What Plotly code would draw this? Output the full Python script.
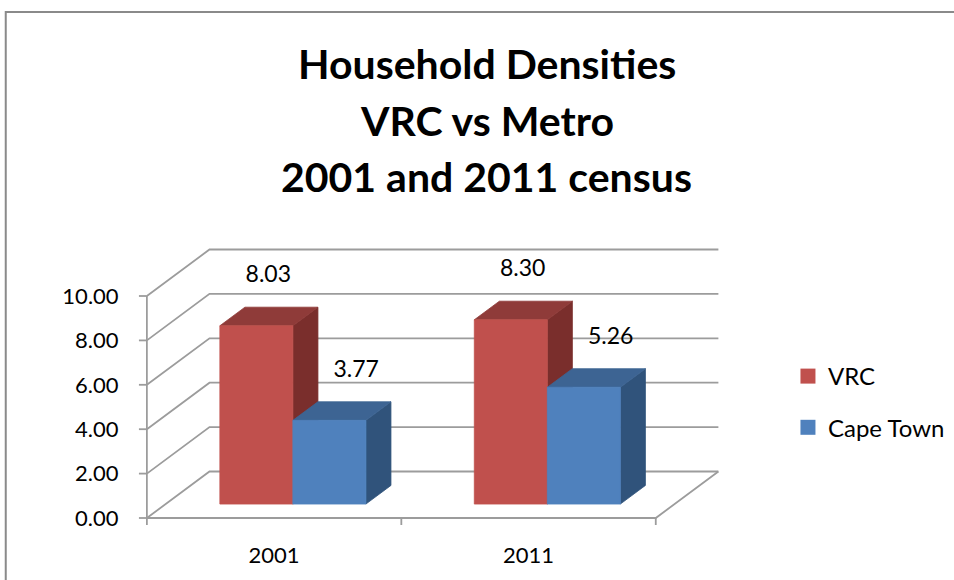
import plotly.graph_objects as go

# Data
categories = ["2001", "2011"]
series_names = ["VRC", "Cape Town"]
vrc_values = [8.03, 8.30]
cape_town_values = [3.77, 5.26]
y_tick_values = [0, 2, 4, 6, 8, 10]
y_tick_labels = ["0.00", "2.00", "4.00", "6.00", "8.00", "10.00"]
title_lines = ["Household Densities", "VRC vs Metro", "2001 and 2011 census"]

# Canvas / plot area geometry (pixels)
W, H = 954, 580
M_L, M_R, M_T, M_B = 128, 4, 240, 48
PX_PER_X = 256.0      # pixels per category unit
PX_PER_Y = 22.2       # pixels per value unit

# Oblique "3D" projection: full depth of the chart box in data units
DX = 63.0 / PX_PER_X
DY = 46.5 / PX_PER_Y
BAR_D0 = 0.30         # depth fraction of bar front face
BAR_DD = 0.40         # depth of bar as fraction of box
BAR_W = 0.287         # width of one bar in category units

plot_w = W - M_L - M_R
plot_h = H - M_T - M_B
x_lo = -0.5 - (147 - M_L) / PX_PER_X
x_hi = x_lo + plot_w / PX_PER_X
y_lo = -(H - M_B - 518) / PX_PER_Y
y_hi = y_lo + plot_h / PX_PER_Y

GRID = "#9c9c9c"
FONT = "Lato"

colors = {
    "VRC": {"front": "#c0504d", "top": "#8f3b39", "side": "#7a2e2c"},
    "Cape Town": {"front": "#4f81bd", "top": "#3d6493", "side": "#30537b"},
}


def proj(x, v, d):
    return x + d * DX, v + d * DY


fig = go.Figure()


def add_line(xs, ys, color=GRID, width=1.8):
    fig.add_trace(go.Scatter(x=xs, y=ys, mode="lines",
                             line=dict(color=color, width=width),
                             hoverinfo="skip", showlegend=False))


def add_poly(pts, color):
    xs = [p[0] for p in pts] + [pts[0][0]]
    ys = [p[1] for p in pts] + [pts[0][1]]
    fig.add_trace(go.Scatter(x=xs, y=ys, mode="lines", fill="toself",
                             fillcolor=color, line=dict(color=color, width=0.8),
                             hoverinfo="skip", showlegend=False))


n_cat = len(categories)
x_left, x_right = -0.5, n_cat - 0.5

# Back wall gridlines and side wall diagonals
for v in y_tick_values:
    bx0, by = proj(x_left, v, 1.0)
    bx1, _ = proj(x_right, v, 1.0)
    add_line([x_left, bx0, bx1], [v, by, by])

# Floor edges and value axis
fx, fy = proj(x_right, 0, 1.0)
add_line([x_left, x_right, fx], [0, 0, fy])
add_line([x_left, x_left], [0, max(y_tick_values)])

# Axis tick marks
for v in y_tick_values:
    add_line([x_left - 8 / PX_PER_X, x_left], [v, v])
for i in range(n_cat + 1):
    xt = x_left + i
    add_line([xt, xt], [0, -7 / PX_PER_Y])

# 3D columns
series = [("VRC", vrc_values, -1), ("Cape Town", cape_town_values, 0)]
for ci in range(n_cat):
    for name, vals, k in series:
        v = vals[ci]
        c = colors[name]
        x0 = ci + k * BAR_W
        x1 = x0 + BAR_W
        d0, d1 = BAR_D0, BAR_D0 + BAR_DD
        fl, fr = proj(x0, 0, d0), proj(x1, 0, d0)
        tl, tr = proj(x0, v, d0), proj(x1, v, d0)
        btl, btr = proj(x0, v, d1), proj(x1, v, d1)
        bbr = proj(x1, 0, d1)
        add_poly([fr, tr, btr, bbr], c["side"])
        add_poly([tl, tr, btr, btl], c["top"])
        add_poly([fl, fr, tr, tl], c["front"])

# Data labels above each column
label_dx = {"VRC": 12 / PX_PER_X, "Cape Town": 27 / PX_PER_X}
label_dy = 2.85
for name, vals, k in series:
    xs, ys, txt = [], [], []
    for ci in range(n_cat):
        cx = ci + k * BAR_W + BAR_W / 2
        px, _ = proj(cx, 0, BAR_D0)
        xs.append(px + label_dx[name])
        ys.append(vals[ci] + label_dy)
        txt.append(f"{vals[ci]:.2f}")
    fig.add_trace(go.Scatter(x=xs, y=ys, mode="text", text=txt,
                             textposition="middle center",
                             textfont=dict(family=FONT, size=23, color="#000000"),
                             hoverinfo="skip", showlegend=False, cliponaxis=False))

# Legend entries
for gi, name in enumerate(series_names):
    fig.add_trace(go.Scatter(x=[None], y=[None], mode="markers", name=name,
                             legendgroup=f"g{gi}",
                             marker=dict(symbol="square", size=15,
                                         color=colors[name]["front"])))


def px_to_paper_x(px):
    return (px - M_L) / plot_w


def px_to_paper_y(py):
    return (H - M_B - py) / plot_h


# Title, three centred bold lines
for i, line in enumerate(title_lines):
    fig.add_annotation(text=line, xref="paper", yref="paper",
                       x=px_to_paper_x(489), y=px_to_paper_y(63.5 + 56.7 * i),
                       xanchor="center", yanchor="middle", showarrow=False,
                       font=dict(family=FONT, size=41, color="#000000", weight="bold"))

# Chart area border
fig.add_shape(type="rect", xref="paper", yref="paper", layer="below",
              x0=px_to_paper_x(5), y0=px_to_paper_y(12),
              x1=px_to_paper_x(W + 20), y1=px_to_paper_y(H + 20),
              line=dict(color="#8a8a8a", width=2), fillcolor="rgba(0,0,0,0)")

fig.update_layout(
    width=W, height=H,
    margin=dict(l=M_L, r=M_R, t=M_T, b=M_B),
    paper_bgcolor="#ffffff", plot_bgcolor="rgba(0,0,0,0)",
    font=dict(family=FONT, size=22, color="#000000"),
    showlegend=True,
    legend=dict(x=px_to_paper_x(792), y=px_to_paper_y(354), xanchor="left", yanchor="top",
                font=dict(family=FONT, size=24, color="#000000"),
                tracegroupgap=17, bgcolor="rgba(0,0,0,0)"),
    xaxis=dict(range=[x_lo, x_hi], tickmode="array", tickvals=list(range(n_cat)),
               ticktext=categories, showgrid=False, zeroline=False, showline=False,
               ticks="outside", ticklen=4, tickcolor="rgba(0,0,0,0)",
               tickfont=dict(family=FONT, size=22, color="#000000")),
    yaxis=dict(range=[y_lo, y_hi], tickmode="array", tickvals=y_tick_values,
               ticktext=y_tick_labels, showgrid=False, zeroline=False, showline=False,
               ticks="outside", ticklen=4, tickcolor="rgba(0,0,0,0)",
               tickfont=dict(family=FONT, size=22, color="#000000")),
)

fig.write_html("out.html")
